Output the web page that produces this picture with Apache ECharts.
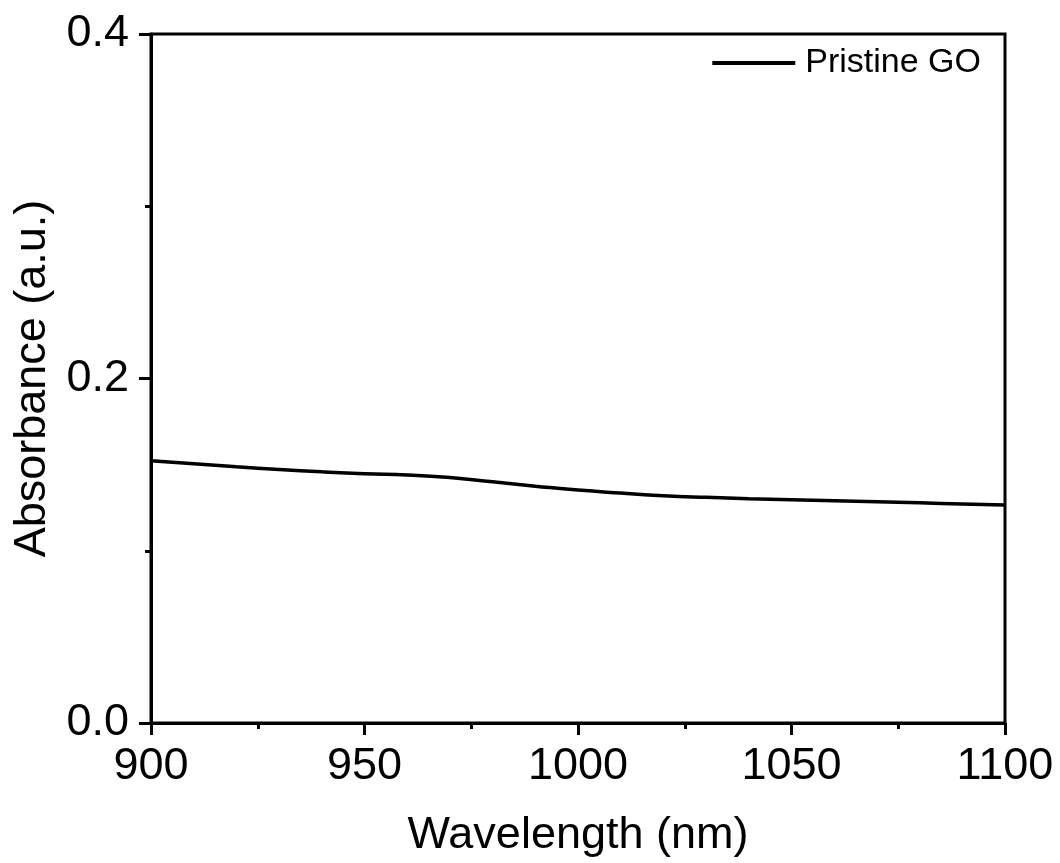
<!DOCTYPE html>
<html>
<head>
<meta charset="utf-8">
<script src="https://cdn.jsdelivr.net/npm/echarts@6/dist/echarts.min.js"></script>
<style>
html, body { margin: 0; padding: 0; background: #fff; }
#main { width: 1060px; height: 863px; }
</style>
</head>
<body>
<div id="main"></div>
<script>
// 数据
var wavelength = [900, 910, 920, 930, 940, 950, 960, 970, 980, 990, 1000,
                  1010, 1020, 1030, 1040, 1050, 1060, 1070, 1080, 1090, 1100];
var absorbance = [0.1523, 0.1505, 0.1487, 0.1472, 0.1458, 0.1447, 0.1440, 0.1425, 0.1400, 0.1375, 0.1352,
                  0.1335, 0.1320, 0.1310, 0.1302, 0.1296, 0.1290, 0.1284, 0.1278, 0.1272, 0.1266];
var seriesName = 'Pristine GO';

var points = [];
for (var i = 0; i < wavelength.length; i++) {
    points.push([wavelength[i], absorbance[i]]);
}

var font = 'Liberation Sans, Arial, sans-serif';
var myChart = echarts.init(document.getElementById('main'));

var option = {
    backgroundColor: '#fff',
    animation: false,
    grid: {
        left: 151, right: 55, top: 34, bottom: 140,
        show: true, borderColor: '#000', borderWidth: 3
    },
    legend: {
        right: 74, top: 41,
        itemWidth: 83, itemHeight: 4, itemGap: 10,
        icon: 'rect',
        itemStyle: { color: '#000' },
        textStyle: { fontFamily: font, fontSize: 34, color: '#000', padding: [0, 0, 0, 5] },
        data: [seriesName]
    },
    xAxis: {
        type: 'value',
        min: 900, max: 1100, interval: 50,
        name: 'Wavelength (nm)',
        nameLocation: 'middle',
        nameGap: 90,
        nameTextStyle: { fontFamily: font, fontSize: 45, color: '#000' },
        axisLine: { lineStyle: { color: '#000', width: 3 } },
        axisTick: { inside: false, length: 12, lineStyle: { color: '#000', width: 3 } },
        minorTick: { show: true, splitNumber: 2, length: 6, lineStyle: { color: '#000', width: 3 } },
        axisLabel: {
            fontFamily: font, fontSize: 45, color: '#000', margin: 21,
            formatter: function (v) { return String(v); }
        },
        splitLine: { show: false }
    },
    yAxis: {
        type: 'value',
        min: 0, max: 0.4, interval: 0.2,
        name: 'Absorbance (a.u.)',
        nameLocation: 'middle',
        nameGap: 96,
        nameTextStyle: { fontFamily: font, fontSize: 45, color: '#000' },
        axisLine: { lineStyle: { color: '#000', width: 3 } },
        axisTick: { inside: false, length: 12, lineStyle: { color: '#000', width: 3 } },
        minorTick: { show: true, splitNumber: 2, length: 6, lineStyle: { color: '#000', width: 3 } },
        axisLabel: {
            fontFamily: font, fontSize: 45, color: '#000', margin: 22,
            formatter: function (v) { return v.toFixed(1); }
        },
        splitLine: { show: false }
    },
    series: [{
        name: seriesName,
        type: 'line',
        data: points,
        showSymbol: false,
        smooth: true,
        lineStyle: { color: '#000', width: 3.5 },
        itemStyle: { color: '#000' }
    }]
};

myChart.setOption(option, true);
</script>
</body>
</html>
